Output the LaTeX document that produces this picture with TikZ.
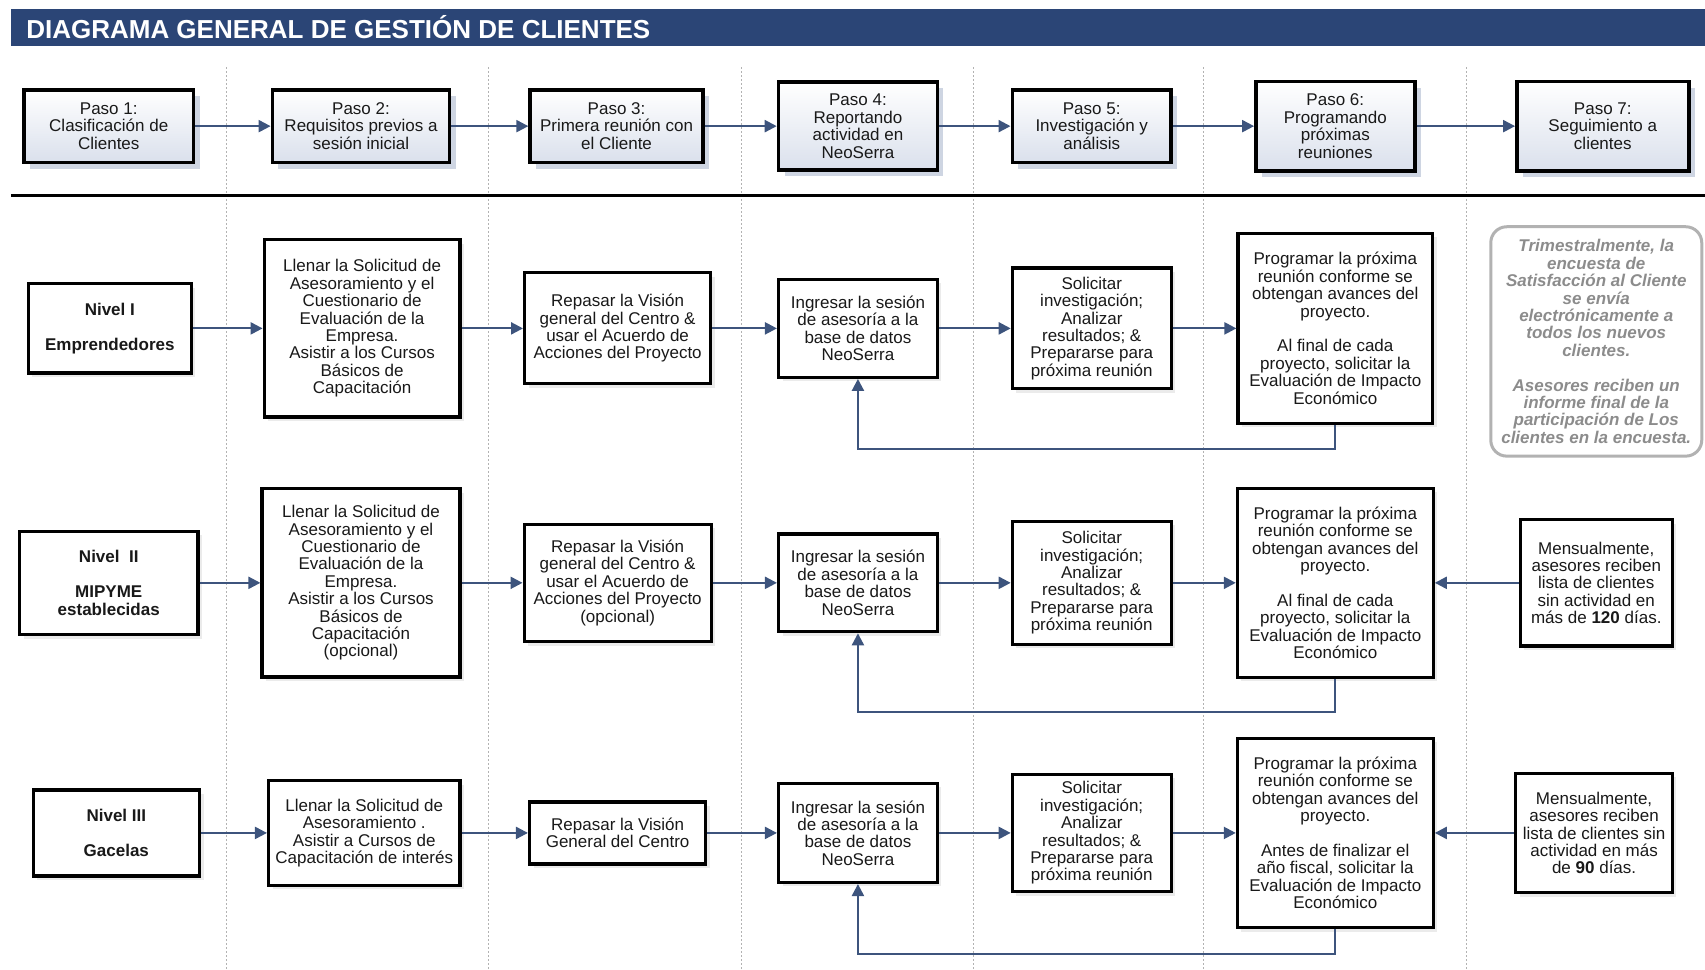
\documentclass[tikz,border=0pt]{standalone}
\usepackage{fontspec}
\setmainfont{Liberation Sans}
\usepackage{tikz}
\usetikzlibrary{arrows.meta, shadows, positioning}

\definecolor{barblue}{RGB}{43,69,118}
\definecolor{flowblue}{RGB}{61,84,125}
\definecolor{stepfill}{RGB}{218,224,236}
\definecolor{stepshadow}{RGB}{206,213,226}
\definecolor{notegray}{RGB}{140,140,140}
\definecolor{noteline}{RGB}{178,178,178}

\begin{document}
\begin{tikzpicture}[x=0.5437pt, y=-0.5437pt, >={Triangle[length=6pt,width=6pt]},
    every node/.style={font=\fontsize{8.5}{8.7}\selectfont, align=center, inner sep=1pt, text=black!90},
    stepbox/.style={draw=black, line width=1.8pt, top color=white, bottom color=stepfill,
        drop shadow={shadow xshift=3pt, shadow yshift=-3pt, fill=stepshadow, opacity=1}},
    taskbox/.style={draw=black, line width=1.6pt, fill=white,
        drop shadow={shadow xshift=2pt, shadow yshift=-2pt, fill=black!8, opacity=1}},
    notebox/.style={draw=noteline, line width=1.5pt, rounded corners=8pt, fill=white, text=notegray,
        font=\fontsize{8.5}{8.7}\selectfont\bfseries\itshape},
    flow/.style={->, draw=flowblue, line width=1.1pt},
    lane/.style={draw=black!30, line width=0.5pt, dash pattern=on 1pt off 1pt}]

    \useasboundingbox (0,0) rectangle (1568,892);

    % Title bar
    \fill[barblue] (10,8) rectangle (1568,42);
    \node[anchor=west, text=white, font=\fontsize{13}{13}\selectfont\bfseries] (title) at (22,25)
        {DIAGRAMA GENERAL DE GESTIÓN DE CLIENTES};

    % Lane separators
    \foreach \x in {208,449,682,895,1107,1349}
        \draw[lane] (\x,62) -- (\x,892);

    % Rule under the steps
    \draw[line width=1.6pt] (10,180) -- (1568,180);

    % Steps
    \node[stepbox, minimum width=84.8pt, minimum height=36.4pt] (s1) at (100,116) {Paso 1:\\Clasificación de\\Clientes};
    \node[stepbox, minimum width=88.6pt, minimum height=36.4pt] (s2) at (332,116) {Paso 2:\\Requisitos previos a\\sesión inicial};
    \node[stepbox, minimum width=86.4pt, minimum height=36.4pt] (s3) at (567,116) {Paso 3:\\Primera reunión con\\el Cliente};
    \node[stepbox, minimum width=79.4pt, minimum height=44.0pt] (s4) at (789,116) {Paso 4:\\Reportando\\actividad en\\NeoSerra};
    \node[stepbox, minimum width=79.4pt, minimum height=36.4pt] (s5) at (1004,116) {Paso 5:\\Investigación y\\análisis};
    \node[stepbox, minimum width=79.4pt, minimum height=44.6pt] (s6) at (1228,116) {Paso 6:\\Programando\\próximas\\reuniones};
    \node[stepbox, minimum width=85.9pt, minimum height=44.6pt] (s7) at (1474,116) {Paso 7:\\Seguimiento a\\clientes};

    \foreach \a/\b in {s1/s2, s2/s3, s3/s4, s4/s5, s5/s6, s6/s7}
        \draw[flow] (\a) -- (\b);

    % Nivel I
    \node[taskbox, minimum width=81.6pt, minimum height=44.6pt, font=\fontsize{8.5}{8.7}\selectfont\bfseries] (n1a) at (101,302)
        {Nivel I\\[8.7pt]Emprendedores};
    \node[taskbox, minimum width=97.9pt, minimum height=88.6pt] (n1b) at (333,302)
        {Llenar la Solicitud de\\Asesoramiento y el\\Cuestionario de\\Evaluación de la\\Empresa.\\Asistir a los Cursos\\Básicos de\\Capacitación};
    \node[taskbox, minimum width=93.0pt, minimum height=55.5pt] (n1c) at (568,302)
        {Repasar la Visión\\general del Centro \&\\usar el Acuerdo de\\Acciones del Proyecto};
    \node[taskbox, minimum width=79.4pt, minimum height=48.9pt] (n1d) at (789,302)
        {Ingresar la sesión\\de asesoría a la\\base de datos\\NeoSerra};
    \node[taskbox, minimum width=79.4pt, minimum height=60.4pt] (n1e) at (1004,302)
        {Solicitar\\investigación;\\Analizar\\resultados; \&\\Prepararse para\\próxima reunión};
    \node[taskbox, minimum width=97.3pt, minimum height=95.1pt] (n1f) at (1228,302)
        {Programar la próxima\\reunión conforme se\\obtengan avances del\\proyecto.\\[8.7pt]Al final de cada\\proyecto, solicitar la\\Evaluación de Impacto\\Económico};
    \node[notebox, minimum width=105.5pt, minimum height=114.7pt] (note) at (1468,314)
        {Trimestralmente, la\\encuesta de\\Satisfacción al Cliente\\se envía\\electrónicamente a\\todos los nuevos\\clientes.\\[8.7pt]Asesores reciben un\\informe final de la\\participación de Los\\clientes en la encuesta.};

    \foreach \a/\b in {n1a/n1b, n1b/n1c, n1c/n1d, n1d/n1e, n1e/n1f}
        \draw[flow] (\a) -- (\b);
    \draw[flow] (n1f.south) -- ++(0,22) -| (n1d.south);

    % Nivel II
    \node[taskbox, minimum width=89.2pt, minimum height=51.7pt, font=\fontsize{8.5}{8.7}\selectfont\bfseries] (n2a) at (100,536)
        {Nivel~~II\\[8.7pt]MIPYME\\establecidas};
    \node[taskbox, minimum width=99.0pt, minimum height=94.1pt] (n2b) at (332,536)
        {Llenar la Solicitud de\\Asesoramiento y el\\Cuestionario de\\Evaluación de la\\Empresa.\\Asistir a los Cursos\\Básicos de\\Capacitación\\(opcional)};
    \node[taskbox, minimum width=93.5pt, minimum height=58.7pt] (n2c) at (568,536)
        {Repasar la Visión\\general del Centro \&\\usar el Acuerdo de\\Acciones del Proyecto\\(opcional)};
    \node[taskbox, minimum width=79.4pt, minimum height=48.9pt] (n2d) at (789,536)
        {Ingresar la sesión\\de asesoría a la\\base de datos\\NeoSerra};
    \node[taskbox, minimum width=79.4pt, minimum height=61.4pt] (n2e) at (1004,536)
        {Solicitar\\investigación;\\Analizar\\resultados; \&\\Prepararse para\\próxima reunión};
    \node[taskbox, minimum width=97.9pt, minimum height=94.6pt] (n2f) at (1228,536)
        {Programar la próxima\\reunión conforme se\\obtengan avances del\\proyecto.\\[8.7pt]Al final de cada\\proyecto, solicitar la\\Evaluación de Impacto\\Económico};
    \node[taskbox, minimum width=76.1pt, minimum height=63.1pt] (n2g) at (1468,536)
        {Mensualmente,\\asesores reciben\\lista de clientes\\sin actividad en\\más de \textbf{120} días.};

    \foreach \a/\b in {n2a/n2b, n2b/n2c, n2c/n2d, n2d/n2e, n2e/n2f, n2g/n2f}
        \draw[flow] (\a) -- (\b);
    \draw[flow] (n2f.south) -- ++(0,30) -| (n2d.south);

    % Nivel III
    \node[taskbox, minimum width=83.2pt, minimum height=43.0pt, font=\fontsize{8.5}{8.7}\selectfont\bfseries] (n3a) at (107,766)
        {Nivel III\\[8.7pt]Gacelas};
    \node[taskbox, minimum width=95.7pt, minimum height=52.2pt] (n3b) at (335,766)
        {Llenar la Solicitud de\\Asesoramiento .\\Asistir a Cursos de\\Capacitación de interés};
    \node[taskbox, minimum width=88.1pt, minimum height=31.0pt] (n3c) at (568,766)
        {Repasar la Visión\\General del Centro};
    \node[taskbox, minimum width=79.4pt, minimum height=49.5pt] (n3d) at (789,766)
        {Ingresar la sesión\\de asesoría a la\\base de datos\\NeoSerra};
    \node[taskbox, minimum width=79.4pt, minimum height=58.7pt] (n3e) at (1004,766)
        {Solicitar\\investigación;\\Analizar\\resultados; \&\\Prepararse para\\próxima reunión};
    \node[taskbox, minimum width=97.9pt, minimum height=94.6pt] (n3f) at (1228,766)
        {Programar la próxima\\reunión conforme se\\obtengan avances del\\proyecto.\\[8.7pt]Antes de finalizar el\\año fiscal, solicitar la\\Evaluación de Impacto\\Económico};
    \node[taskbox, minimum width=78.3pt, minimum height=59.8pt] (n3g) at (1466,766)
        {Mensualmente,\\asesores reciben\\lista de clientes sin\\actividad en más\\de \textbf{90} días.};

    \foreach \a/\b in {n3a/n3b, n3b/n3c, n3c/n3d, n3d/n3e, n3e/n3f, n3g/n3f}
        \draw[flow] (\a) -- (\b);
    \draw[flow] (n3f.south) -- ++(0,23) -| (n3d.south);

\end{tikzpicture}
\end{document}
